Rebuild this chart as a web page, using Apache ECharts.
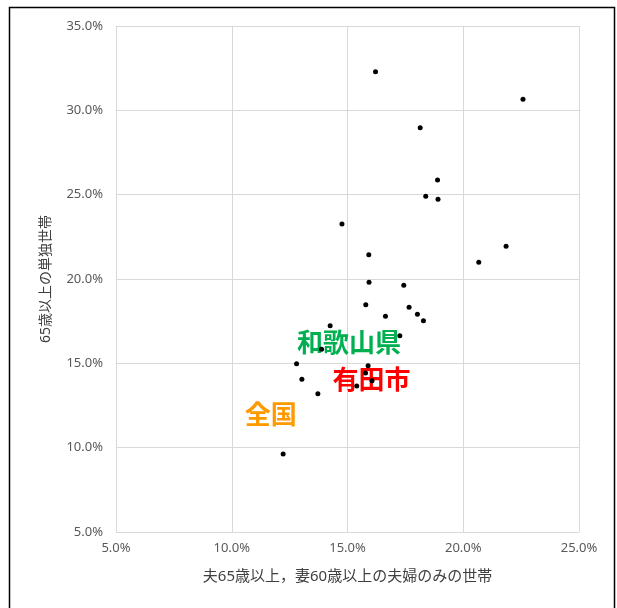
<!DOCTYPE html>
<html><head><meta charset="utf-8">
<script src="https://cdn.jsdelivr.net/npm/echarts/dist/echarts.min.js"></script>
<style>html,body{margin:0;padding:0;background:#fff}#c{width:617px;height:608px}</style>
</head><body><div id="c"></div>
<script>
// Data (percent)
const xValues = [16.21, 22.58, 18.14, 18.89, 18.38, 18.91, 14.76, 15.92, 21.85, 20.67,
                 15.93, 17.43, 15.79, 17.66, 16.64, 18.02, 18.28, 14.25, 17.26, 13.88,
                 12.80, 15.89, 15.78, 13.03, 16.06, 15.40, 13.72, 12.22];
const yValues = [32.29, 30.65, 28.97, 25.87, 24.91, 24.73, 23.26, 21.44, 21.94, 20.99,
                 19.81, 19.63, 18.48, 18.33, 17.79, 17.91, 17.53, 17.23, 16.64, 15.84,
                 14.98, 14.85, 14.43, 14.06, 13.97, 13.66, 13.20, 9.63];
const xTicks = [5, 10, 15, 20, 25];
const yTicks = [5, 10, 15, 20, 25, 30, 35];
const labelNames = ['和歌山県', '有田市', '全国'];
const labelX = [15.07, 16.04, 11.68];
const labelY = [16.26, 14.09, 11.96];
const labelColors = ['#00B050', '#FF0000', '#FF9900'];
const xTitle = '夫65歳以上，妻60歳以上の夫婦のみの世帯';
const yTitle = '65歳以上の単独世帯';

const points = xValues.map((x, i) => [x, yValues[i]]);
const labelData = labelNames.map((n, i) => ({
  value: [labelX[i], labelY[i]], name: n,
  label: { color: labelColors[i] }
}));

const chart = echarts.init(document.getElementById('c'), null, { renderer: 'canvas' });
const fmt = v => v.toFixed(1) + '%';
const font = '"Noto Sans", "Noto Sans CJK JP", sans-serif';
chart.setOption({
  animation: false,
  backgroundColor: '#fff',
  textStyle: { fontFamily: font },
  grid: { left: 116, right: 38, top: 26, bottom: 76 },
  graphic: [{
    type: 'rect', silent: true, z: 100,
    shape: { x: 9.5, y: 7.5, width: 605, height: 630 },
    style: { fill: 'none', stroke: '#000', lineWidth: 1.5 }
  }],
  xAxis: {
    type: 'value', min: xTicks[0], max: xTicks[xTicks.length - 1], interval: 5,
    axisLine: { show: true, lineStyle: { color: '#D9D9D9', width: 1 } },
    axisTick: { show: false },
    splitLine: { show: true, lineStyle: { color: '#D9D9D9', width: 1 } },
    axisLabel: { formatter: fmt, color: '#595959', fontSize: 13, margin: 10, fontFamily: font },
    name: xTitle, nameLocation: 'middle', nameGap: 37,
    nameTextStyle: { color: '#404040', fontSize: 15, fontFamily: font }
  },
  yAxis: {
    type: 'value', min: yTicks[0], max: yTicks[yTicks.length - 1], interval: 5,
    axisLine: { show: true, lineStyle: { color: '#D9D9D9', width: 1 } },
    axisTick: { show: false },
    splitLine: { show: true, lineStyle: { color: '#D9D9D9', width: 1 } },
    axisLabel: { formatter: fmt, color: '#595959', fontSize: 13, margin: 13, fontFamily: font },
    name: yTitle, nameLocation: 'middle', nameGap: 63,
    nameTextStyle: { color: '#404040', fontSize: 14, fontFamily: font }
  },
  series: [
    {
      type: 'scatter', data: labelData, symbolSize: 0, z: 1, silent: true,
      itemStyle: { opacity: 1 },
      label: {
        show: true, position: 'inside', formatter: '{b}', opacity: 1,
        fontSize: 26, fontWeight: 'bold',
        fontFamily: '"Noto Sans CJK JP", sans-serif'
      }
    },
    {
      type: 'scatter', data: points, symbolSize: 5, z: 5,
      itemStyle: { color: '#000', opacity: 1 }
    }
  ]
});
</script>
</body></html>
